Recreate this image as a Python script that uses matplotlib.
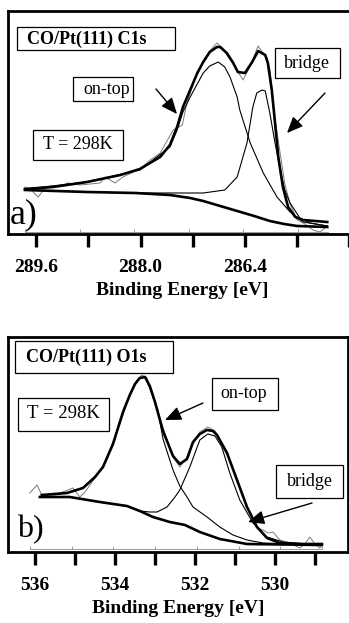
import matplotlib
matplotlib.use("Agg")
import matplotlib.pyplot as plt
from matplotlib.patches import Rectangle
from matplotlib.ticker import FixedLocator, FixedFormatter

# ---------------- data: C1s panel ----------------
c1s_total_E = [289.77, 289.34, 288.82, 288.31, 288.01, 287.70, 287.55, 287.44, 287.35, 287.24,
               287.13, 287.04, 286.94, 286.83, 286.78, 286.68, 286.58, 286.51, 286.40, 286.29,
               286.20, 286.09, 286.05, 285.99, 285.94, 285.89, 285.82, 285.74, 285.63, 285.51, 285.14]
c1s_total_I = [45, 47, 52, 59, 65, 77, 89, 107, 127, 144,
               161, 172, 182, 187, 187, 181, 171, 162, 161, 172,
               183, 179, 171, 144, 111, 77, 47, 27, 17, 14, 12]

c1s_bg_E = [289.77, 288.82, 288.08, 287.55, 287.24, 287.04, 286.78, 286.52, 286.26, 286.02, 285.80, 285.60, 285.14]
c1s_bg_I = [44, 42, 41, 39, 36, 33, 28, 23, 18, 13, 10, 8, 7]

c1s_ontop_E = [289.77, 288.82, 288.01, 287.55, 287.44, 287.35, 287.24, 287.04, 286.94, 286.81,
               286.71, 286.63, 286.52, 286.48, 286.32, 286.12, 285.91, 285.71, 285.51, 285.14]
c1s_ontop_I = [45, 52, 64, 87, 104, 122, 137, 161, 168, 172,
               167, 157, 137, 124, 91, 61, 37, 22, 12, 8]

c1s_bridge_E = [289.77, 288.82, 288.08, 287.55, 287.04, 286.71, 286.52, 286.37, 286.28, 286.22,
                286.14, 286.09, 286.02, 285.94, 285.86, 285.79, 285.71, 285.56, 285.40, 285.14]
c1s_bridge_I = [44, 42, 41, 41, 41, 44, 57, 91, 127, 141,
                144, 143, 121, 91, 64, 44, 31, 16, 11, 8]

c1s_data_E = [289.77, 289.69, 289.57, 289.46, 289.23, 289.11, 288.93, 288.62, 288.54, 288.39,
              288.27, 288.01, 287.85, 287.70, 287.50, 287.36, 287.29, 287.13, 286.94, 286.83,
              286.75, 286.63, 286.43, 286.32, 286.20, 286.09, 286.02, 285.94, 285.86, 285.79,
              285.71, 285.60, 285.48, 285.36, 285.25, 285.14]
c1s_data_I = [47, 45, 37, 46, 48, 51, 49, 51, 57, 51,
              57, 65, 74, 81, 104, 109, 131, 162, 183, 191,
              186, 175, 154, 168, 188, 178, 165, 115, 80, 50,
              30, 14, 10, 4, 2, 8]

c1s_ticks = [289.6, 288.8, 288.0, 287.2, 286.4, 285.6, 284.8]
c1s_ticklabels = ["289.6", "", "288.0", "", "286.4", "", ""]
c1s_inner_ticks = [0, 1, 2, 3, 4, 5]

# ---------------- data: O1s panel ----------------
o1s_total_E = [535.83, 535.20, 534.80, 534.50, 534.30, 534.05, 533.80, 533.63, 533.50, 533.38,
               533.25, 533.13, 533.00, 532.80, 532.55, 532.38, 532.20, 532.05, 531.88, 531.70,
               531.55, 531.45, 531.20, 530.95, 530.70, 530.45, 530.20, 529.88, 529.38, 528.83]
o1s_total_I = [57, 59, 64, 75, 85, 108, 140, 157, 168, 174,
               175, 166, 150, 121, 96, 88, 93, 110, 118, 122,
               121, 117, 99, 72, 45, 25, 14, 9, 8, 8]

o1s_bg_E = [535.88, 535.13, 534.38, 533.70, 533.38, 533.05, 532.63, 532.25, 531.88, 531.38, 530.70, 528.83]
o1s_bg_I = [55, 55, 50, 46, 41, 35, 30, 27, 20, 13, 8, 7]

o1s_ontop_E = [535.83, 535.20, 534.80, 534.50, 534.30, 534.05, 533.80, 533.63, 533.50, 533.38,
               533.25, 533.13, 532.93, 532.80, 532.55, 532.38, 532.20, 532.05, 531.70, 531.38,
               531.05, 530.70, 530.30, 528.83]
o1s_ontop_I = [57, 59, 64, 75, 85, 108, 140, 157, 168, 174,
               175, 164, 142, 113, 82, 66, 55, 45, 35, 25,
               17, 12, 9, 7]

o1s_bridge_E = [535.88, 535.13, 534.38, 533.70, 533.38, 533.13, 532.95, 532.70, 532.50, 532.38,
                532.13, 531.88, 531.68, 531.50, 531.33, 531.13, 530.88, 530.55, 530.20, 529.80, 528.83]
o1s_bridge_I = [55, 55, 50, 46, 41, 40, 40, 45, 55, 62,
                85, 112, 118, 116, 105, 79, 52, 29, 15, 10, 7]

o1s_data_E = [536.13, 535.95, 535.83, 535.50, 535.18, 535.05, 534.88, 534.75, 534.50, 534.30,
              534.05, 533.80, 533.63, 533.45, 533.33, 533.20, 533.00, 532.80, 532.55, 532.38,
              532.20, 532.05, 531.88, 531.68, 531.50, 531.20, 530.95, 530.70, 530.45, 530.30,
              530.18, 530.05, 529.88, 529.63, 529.38, 529.25, 529.13, 529.00, 528.88, 528.80]
o1s_data_I = [59, 67, 57, 57, 62, 64, 55, 60, 74, 86,
              110, 137, 158, 172, 177, 174, 148, 124, 95, 85,
              95, 108, 120, 125, 121, 98, 73, 45, 24, 22,
              19, 20, 12, 9, 4, 8, 15, 8, 4, 8]

o1s_ticks = [536, 535, 534, 533, 532, 531, 530, 529]
o1s_ticklabels = ["536", "", "534", "", "532", "", "530", ""]
o1s_inner_ticks = [0, 1, 2, 3, 4, 5, 6, 7]

xlabel_text = "Binding Energy [eV]"

# ---------------- figure ----------------
W, H = 349, 623
fig = plt.figure(figsize=(W / 100, H / 100), dpi=100)
plt.rcParams['font.family'] = ['Liberation Serif', 'DejaVu Serif']


def fr(x0, y0, x1, y1):
    return [x0 / W, 1 - y1 / H, (x1 - x0) / W, (y1 - y0) / H]


def fp(x, y):
    return (x / W, 1 - y / H)


def style_axes(ax, ticks, labels, xlim, ylim, ticklen):
    ax.set_xlim(*xlim)
    ax.set_ylim(*ylim)
    ax.set_yticks([])
    ax.xaxis.set_major_locator(FixedLocator(ticks))
    ax.xaxis.set_major_formatter(FixedFormatter(labels))
    ax.tick_params(axis='x', direction='out', length=ticklen, width=2.4, pad=9,
                   labelsize=14)
    for lab in ax.get_xticklabels():
        lab.set_fontweight('bold')
    for s in ax.spines.values():
        s.set_linewidth(2.0)
    ax.set_xlabel(xlabel_text, fontsize=14, fontweight='bold', labelpad=4.5)


def inner_scale(x0, x1, y, ticks, span):
    a = fig.add_axes(fr(x0, y - 8, x1, y))
    a.patch.set_alpha(0)
    for k in ('left', 'right', 'top'):
        a.spines[k].set_visible(False)
    a.spines['bottom'].set_color('#8a8a8a')
    a.spines['bottom'].set_linewidth(0.6)
    a.set_xlim(0, span)
    a.set_yticks([])
    a.set_xticks(ticks)
    a.tick_params(axis='x', direction='in', length=2.5, width=0.6,
                  color='#8a8a8a', labelbottom=False)
    return a


def box(x0, y0, x1, y1, text, tx, ty, size, weight='normal'):
    fig.add_artist(Rectangle(fp(x0, y1), (x1 - x0) / W, (y1 - y0) / H,
                             transform=fig.transFigure, fill=True, fc='white',
                             ec='black', lw=0.9, zorder=5))
    fig.text(*fp(tx, ty), text, fontsize=size, fontweight=weight, ha='left',
             va='center', zorder=6)


def arrow(ax, tail, head):
    ax.annotate('', xy=fp(*head), xytext=fp(*tail), xycoords='figure fraction',
                textcoords='figure fraction',
                arrowprops=dict(arrowstyle='-|>,head_length=0.7,head_width=0.3',
                                lw=1.0, color='black', shrinkA=0, shrinkB=0,
                                mutation_scale=14))


# ---- panel a) C1s ----
ax1 = fig.add_axes(fr(8, 11, 356, 234))
inner_scale(25, 328, 232, c1s_inner_ticks, 5.55)
ax1.plot(c1s_data_E, c1s_data_I, color='#7a7a7a', lw=0.7)
ax1.plot(c1s_ontop_E, c1s_ontop_I, color='black', lw=0.8)
ax1.plot(c1s_bridge_E, c1s_bridge_I, color='black', lw=0.8)
ax1.plot(c1s_bg_E, c1s_bg_I, color='black', lw=1.9)
ax1.plot(c1s_total_E, c1s_total_I, color='black', lw=1.9)
style_axes(ax1, c1s_ticks, c1s_ticklabels, (290.03, 284.70), (0, 223), 9)

box(17, 27, 175, 50, "CO/Pt(111) C1s", 27, 39, 13, 'bold')
box(73, 77, 133, 101, "on-top", 83, 89, 13)
box(275, 48, 340, 78, "bridge", 284, 63, 13)
box(33, 130, 123, 160, "T = 298K", 43, 145, 13)
fig.text(*fp(10, 215), "a)", fontsize=26, ha='left', va='center')
arrow(ax1, (156, 89), (177, 114))
arrow(ax1, (325, 93), (287, 133))

# ---- panel b) O1s ----
ax2 = fig.add_axes(fr(8, 337, 348, 552))
inner_scale(30, 322, 549, o1s_inner_ticks, 7)
ax2.plot(o1s_data_E, o1s_data_I, color='#7a7a7a', lw=0.7)
ax2.plot(o1s_ontop_E, o1s_ontop_I, color='black', lw=0.8)
ax2.plot(o1s_bridge_E, o1s_bridge_I, color='black', lw=0.8)
ax2.plot(o1s_bg_E, o1s_bg_I, color='black', lw=1.9)
ax2.plot(o1s_total_E, o1s_total_I, color='black', lw=1.9)
style_axes(ax2, o1s_ticks, o1s_ticklabels, (536.675, 528.175), (0, 215), 9)

box(15, 341, 173, 373, "CO/Pt(111) O1s", 26, 357, 13, 'bold')
box(18, 398, 109, 431, "T = 298K", 27, 414, 13.5)
box(212, 378, 278, 410, "on-top", 220, 394, 13)
box(276, 465, 343, 498, "bridge", 287, 481, 13)
fig.text(*fp(17, 530), "b)", fontsize=23, ha='left', va='center')
arrow(ax2, (203, 403), (165, 420))
arrow(ax2, (312, 503), (248, 522))

fig.savefig("out.png", dpi=100)
